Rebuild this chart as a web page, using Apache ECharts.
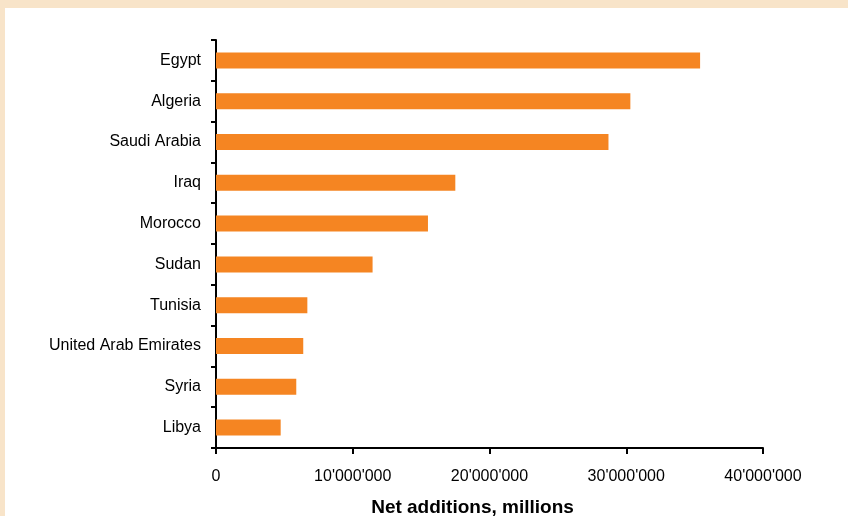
<!DOCTYPE html>
<html>
<head>
<meta charset="utf-8">
<script src="https://cdn.jsdelivr.net/npm/echarts@6/dist/echarts.min.js"></script>
<style>
  html, body { margin: 0; padding: 0; background: #F8E4C9; width: 848px; height: 516px; overflow: hidden; }
  #chart { position: absolute; left: 5px; top: 8px; width: 843px; height: 508px; background: #ffffff; }
</style>
</head>
<body>
<div id="chart"></div>
<script>
const categories = ["Egypt", "Algeria", "Saudi Arabia", "Iraq", "Morocco", "Sudan", "Tunisia", "United Arab Emirates", "Syria", "Libya"];
const values = [35400000, 30300000, 28700000, 17500000, 15500000, 11450000, 6680000, 6380000, 5870000, 4730000];
const xTicks = [0, 10000000, 20000000, 30000000, 40000000];
const axisName = "Net additions, millions";

function fmt(v) {
  if (v === 0) return "0";
  return String(Math.round(v)).replace(/\B(?=(\d{3})+(?!\d))/g, "'");
}

const chart = echarts.init(document.getElementById('chart'), null, { renderer: 'canvas' });
chart.setOption({
  animation: false,
  backgroundColor: '#ffffff',
  grid: { left: 211, right: 85, top: 32, bottom: 68, containLabel: false, outerBoundsMode: 'none' },
  xAxis: {
    type: 'value',
    min: xTicks[0],
    max: xTicks[xTicks.length - 1],
    interval: xTicks[1] - xTicks[0],
    name: axisName,
    nameLocation: 'middle',
    nameGap: 50,
    nameTextStyle: { fontFamily: 'Liberation Sans, Arial, sans-serif', fontSize: 19, fontWeight: 'bold', color: '#000', padding: [0, 34, 0, 0] },
    axisLine: { show: true, lineStyle: { color: '#000', width: 2 } },
    axisTick: { show: true, length: 6, lineStyle: { color: '#000', width: 2 } },
    axisLabel: { formatter: fmt, margin: 21, fontFamily: 'Liberation Sans, Arial, sans-serif', fontSize: 16, color: '#000' },
    splitLine: { show: false }
  },
  yAxis: {
    type: 'category',
    data: categories,
    inverse: true,
    axisLine: { show: true, lineStyle: { color: '#000', width: 2 } },
    axisTick: { show: true, length: 5, alignWithLabel: false, lineStyle: { color: '#000', width: 2 } },
    axisLabel: { margin: 15, fontFamily: 'Liberation Sans, Arial, sans-serif', fontSize: 16, color: '#000' },
    splitLine: { show: false }
  },
  series: [{
    type: 'bar',
    data: values,
    barWidth: 16,
    itemStyle: { color: '#F58522' }
  }]
});
</script>
</body>
</html>
